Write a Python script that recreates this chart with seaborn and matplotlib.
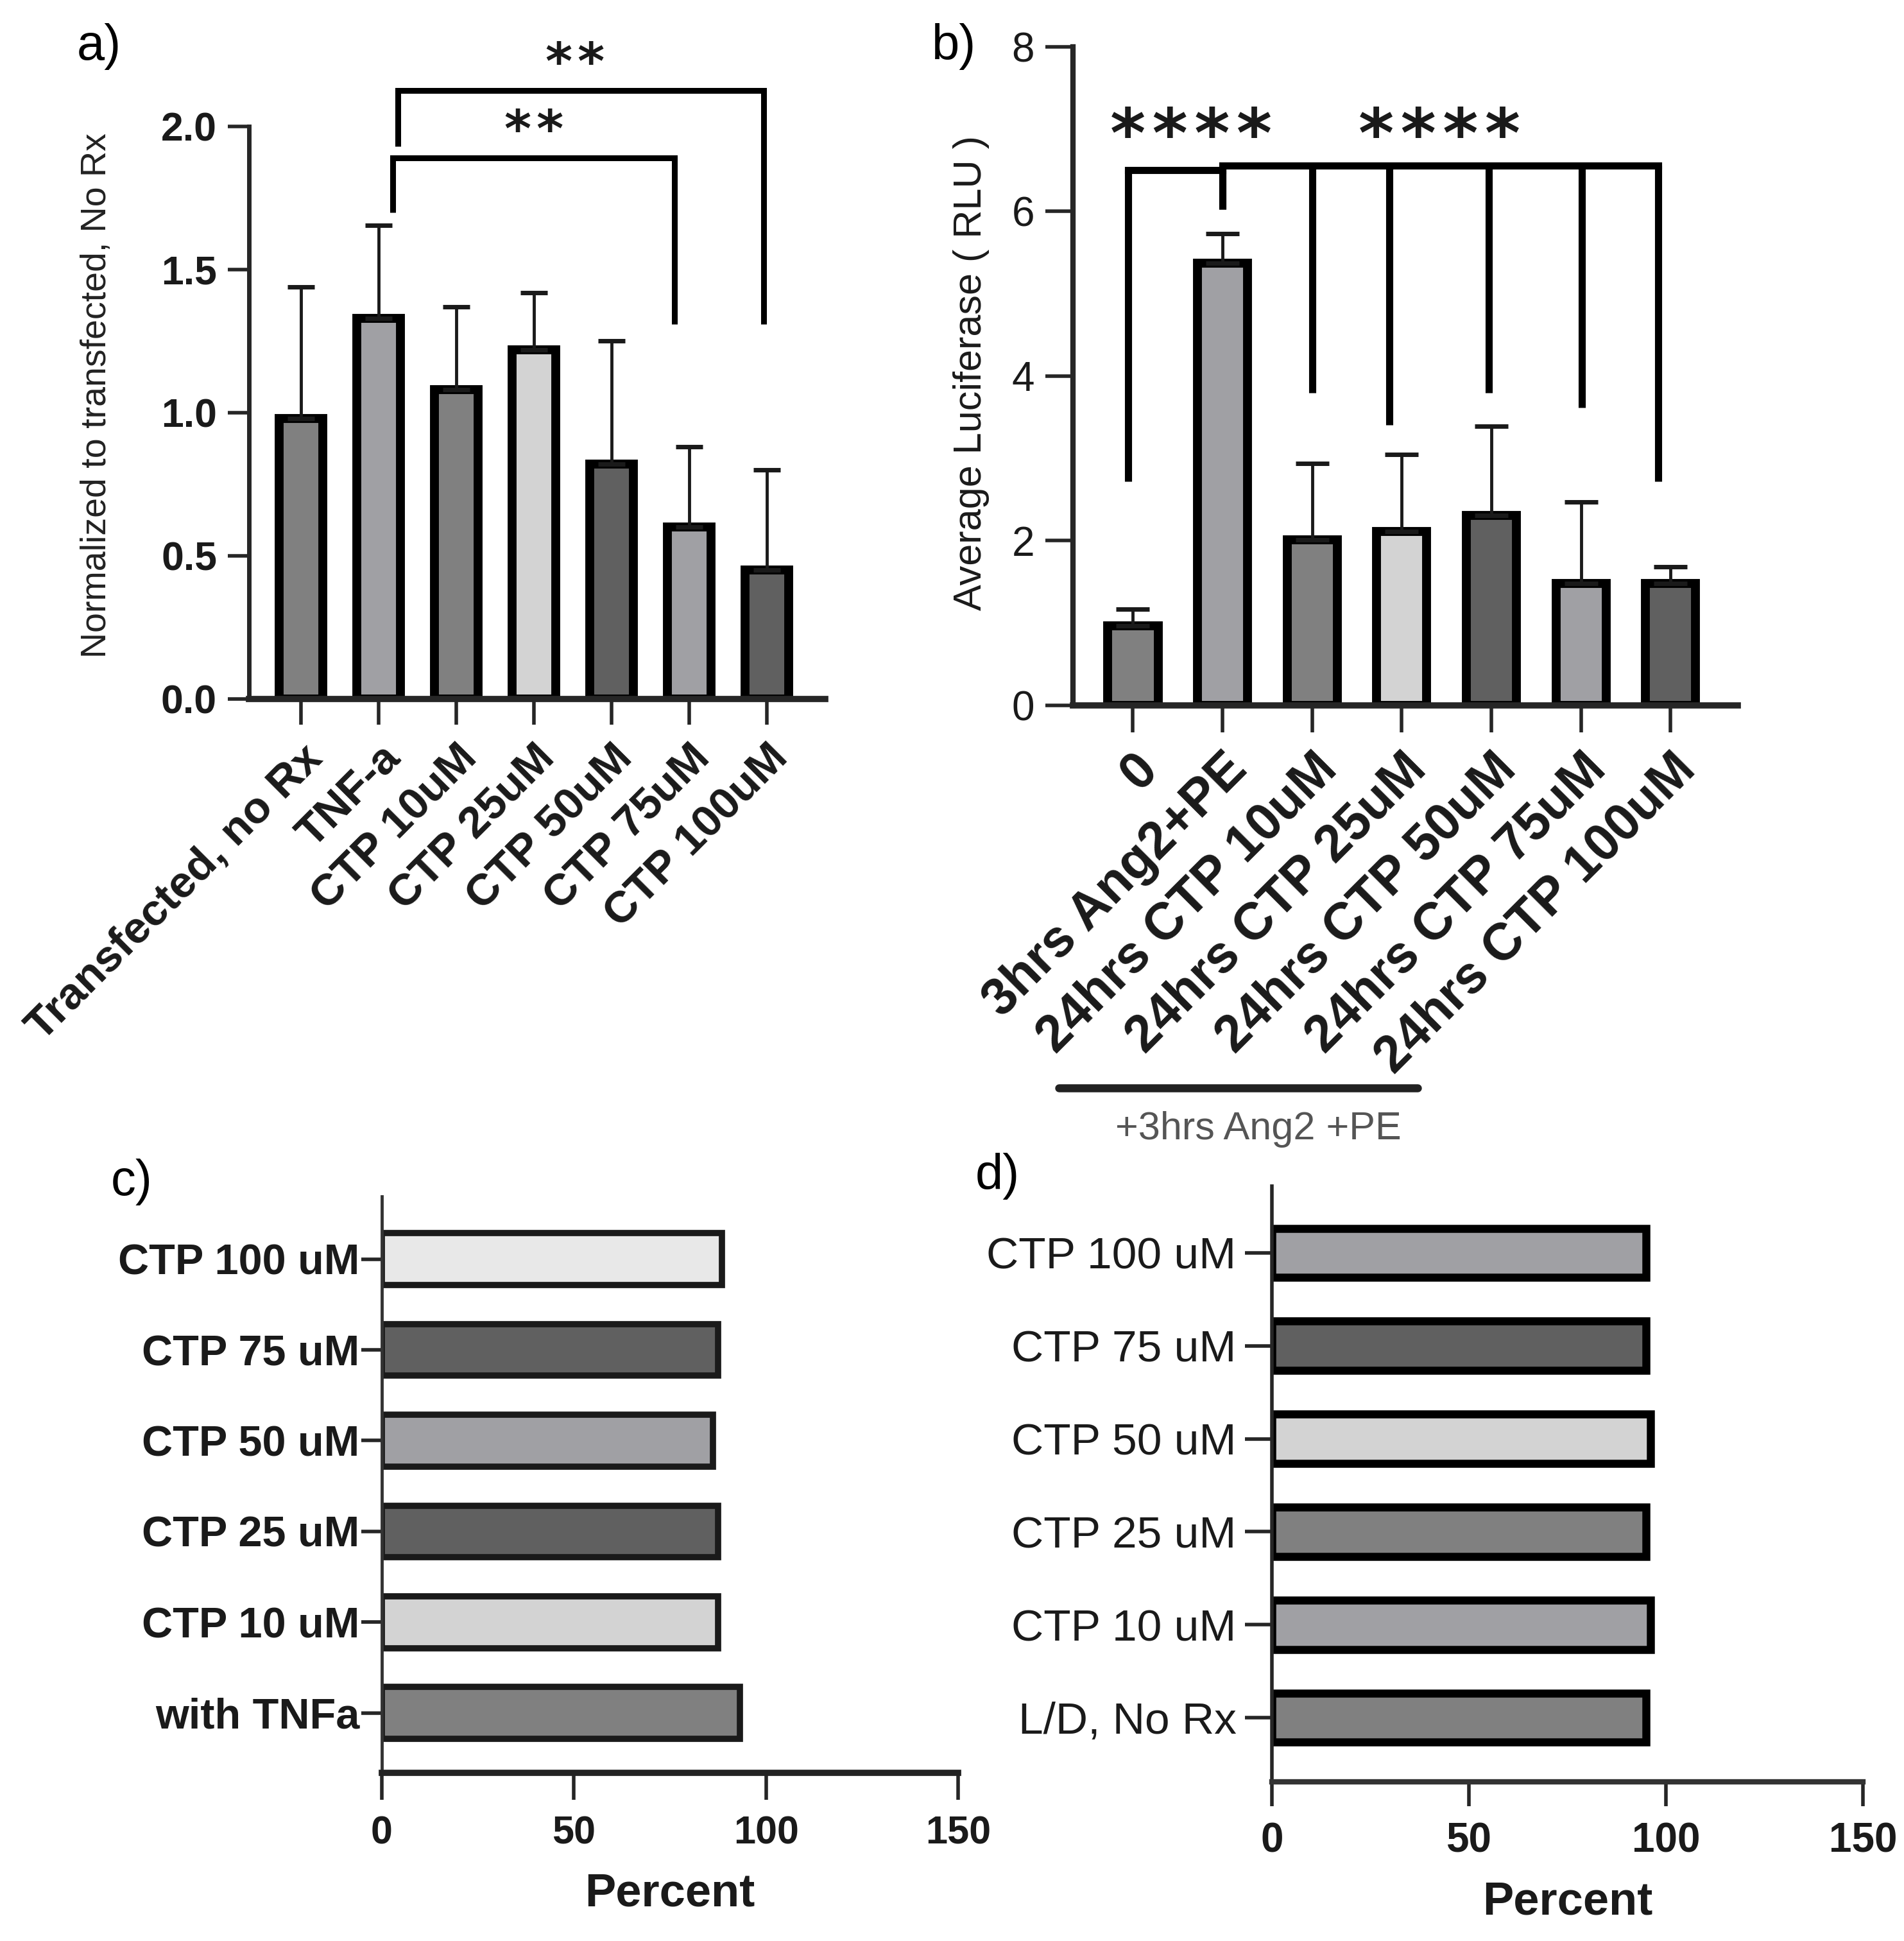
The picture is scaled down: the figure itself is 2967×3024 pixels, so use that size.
import numpy as np
import pandas as pd
import matplotlib.pyplot as plt
import seaborn as sns

sns.set_style('ticks')
plt.rcParams['font.family'] = ['Liberation Sans', 'DejaVu Sans']

# a) normalized to transfected
a_labels = ['Transfected, no Rx', 'TNF-a', 'CTP 10uM', 'CTP 25uM', 'CTP 50uM', 'CTP 75uM', 'CTP 100uM']
a_mean = [0.98, 1.33, 1.08, 1.22, 0.82, 0.60, 0.45]
a_err_top = [1.44, 1.655, 1.37, 1.42, 1.25, 0.88, 0.80]
a_colors = ['#808080', '#a0a0a4', '#808080', '#d3d3d3', '#606060', '#a0a0a4', '#606060']

# b) luciferase
b_labels = ['0', '3hrs Ang2+PE', '24hrs CTP 10uM', '24hrs CTP 25uM', '24hrs CTP 50uM',
            '24hrs CTP 75uM', '24hrs CTP 100uM']
b_mean = [0.97, 5.37, 2.01, 2.11, 2.31, 1.48, 1.48]
b_err_top = [1.17, 5.73, 2.94, 3.05, 3.39, 2.47, 1.68]
b_colors = ['#808080', '#a0a0a4', '#808080', '#d3d3d3', '#606060', '#a0a0a4', '#606060']

# c) and d) viability, percent
c_labels = ['CTP 100 uM', 'CTP 75 uM', 'CTP 50 uM', 'CTP 25 uM', 'CTP 10 uM', 'with TNFa']
c_values = [88.5, 87.6, 86.2, 87.6, 87.6, 93.2]
c_colors = ['#e8e8e8', '#606060', '#a0a0a4', '#606060', '#d3d3d3', '#808080']

d_labels = ['CTP 100 uM', 'CTP 75 uM', 'CTP 50 uM', 'CTP 25 uM', 'CTP 10 uM', 'L/D, No Rx']
d_values = [95.0, 95.0, 96.1, 95.0, 96.1, 95.0]
d_colors = ['#a0a0a4', '#606060', '#d3d3d3', '#808080', '#a0a0a4', '#808080']

INK = '#1a1a1a'
HS = '\u200a'  # hair space between stars


def vbars(ax, labels, means, tops, colors, lw, capsize):
    df = pd.DataFrame({'group': labels, 'value': means})
    sns.barplot(data=df, x='group', y='value', hue='group', palette=colors, legend=False,
                width=0.56, edgecolor='black', linewidth=lw, saturation=1, ax=ax)
    hi = np.array(tops) - np.array(means)
    ax.errorbar(np.arange(len(means)), means, yerr=[np.zeros(len(means)), hi], fmt='none',
                ecolor=INK, elinewidth=3.5, capsize=capsize, capthick=5, zorder=1)
    ax.set_xlim(-0.67, 6.75)
    ax.set_xlabel('')
    ax.set_xticks(range(len(labels)))
    sns.despine(ax=ax)


def bracket(ax, xs, y, ends, lw):
    ax.plot([xs[0], xs[-1]], [y, y], color='black', lw=lw, clip_on=False, solid_capstyle='projecting')
    for x, e in zip(xs, ends):
        ax.plot([x, x], [y, e], color='black', lw=lw, clip_on=False, solid_capstyle='butt')


def stars(ax, x, y, n, size):
    ax.text(x, y, HS.join(['*'] * n), fontsize=size, family='DejaVu Sans', fontweight='bold',
            ha='center', va='center', color=INK)


def hbars(ax, labels, values, colors, edge, lw, height):
    df = pd.DataFrame({'group': labels, 'value': values})
    sns.barplot(data=df, y='group', x='value', hue='group', palette=colors, legend=False,
                orient='h', width=height, edgecolor=edge, linewidth=lw, saturation=1, ax=ax)
    ax.set_xlim(0, 150)
    ax.set_xticks([0, 50, 100, 150])
    ax.set_ylabel('')
    ax.set_xlabel('Percent', fontsize=52, fontweight='bold', color=INK, labelpad=22)
    sns.despine(ax=ax)


fig = plt.figure(figsize=(29.67, 30.24), dpi=100)

# ---- a
ax = fig.add_axes([0.1308, 0.6399, 0.3026, 0.295])
vbars(ax, a_labels, a_mean, a_err_top, a_colors, lw=10, capsize=15)
ax.set_ylim(0, 2.0)
ax.set_yticks([0, 0.5, 1.0, 1.5, 2.0])
ax.set_yticklabels(['0.0', '0.5', '1.0', '1.5', '2.0'], fontsize=45, fontweight='bold', color=INK)
ax.set_xticklabels(a_labels, rotation=45, ha='right', rotation_mode='anchor',
                   fontsize=50, fontweight='bold', color=INK)
ax.tick_params(axis='y', length=24, width=4, pad=12)
ax.tick_params(axis='x', length=29, width=4, pad=14)
ax.spines['left'].set_linewidth(5)
ax.spines['bottom'].set_linewidth(7)
ax.set_ylabel('Normalized to transfected, No Rx', fontsize=40, color='#222222')
ax.yaxis.set_label_coords(-0.235, 0.53)
bracket(ax, [1.25, 5.96], 2.125, [1.93, 1.31], 6.5)
bracket(ax, [1.18, 4.81], 1.89, [1.70, 1.31], 6.5)
stars(ax, 3.53, 2.215, 2, 58)
stars(ax, 3.0, 1.98, 2, 58)

# ---- b
ax = fig.add_axes([0.5635, 0.6366, 0.3492, 0.3393])
vbars(ax, b_labels, b_mean, b_err_top, b_colors, lw=10, capsize=19)
ax.set_ylim(0, 8)
ax.set_yticks([0, 2, 4, 6, 8])
ax.set_yticklabels(['0', '2', '4', '6', '8'], fontsize=46, color=INK)
ax.set_xticklabels(b_labels, rotation=45, ha='right', rotation_mode='anchor',
                   fontsize=58, fontweight='bold', color=INK)
ax.tick_params(axis='y', length=31, width=4, pad=12)
ax.tick_params(axis='x', length=30, width=4, pad=14)
ax.spines['left'].set_linewidth(6)
ax.spines['bottom'].set_linewidth(7)
ax.set_ylabel('Average Luciferase ( RLU )', fontsize=44, color=INK)
ax.yaxis.set_label_coords(-0.125, 0.505)
bracket(ax, [-0.05, 1.0], 6.50, [2.72, 6.03], 8)
bracket(ax, [1.0, 2.0, 2.86, 3.97, 5.01, 5.86], 6.56, [6.03, 3.80, 3.41, 3.80, 3.62, 2.72], 8)
stars(ax, 0.65, 6.89, 4, 76)
stars(ax, 3.42, 6.89, 4, 76)
xt = ax.get_xaxis_transform()
ax.plot([-0.83, 3.18], [-0.581, -0.581], transform=xt, color='#222222', lw=9, clip_on=False)
ax.text(1.40, -0.644, '+3hrs Ang2 +PE', transform=xt, fontsize=44, color='#555555',
        ha='center', va='center')

# ---- c
ax = fig.add_axes([0.2005, 0.0866, 0.3027, 0.297])
hbars(ax, c_labels, c_values, c_colors, '#1a1a1a', 7, 0.57)
ax.set_ylim(5.66, -0.69)
ax.tick_params(axis='y', length=23, width=4, pad=2, labelsize=48)
ax.tick_params(axis='x', length=30, width=4, pad=18, labelsize=44)
for t in ax.get_yticklabels() + ax.get_xticklabels():
    t.set_fontweight('bold')
    t.set_color(INK)
ax.spines['left'].set_linewidth(3.5)
ax.spines['left'].set_color('#333333')
ax.spines['bottom'].set_linewidth(7)
ax.spines['bottom'].set_color('#222222')

# ---- d
ax = fig.add_axes([0.668, 0.082, 0.3104, 0.307])
hbars(ax, d_labels, d_values, d_colors, 'black', 9, 0.53)
ax.set_ylim(5.69, -0.72)
ax.tick_params(axis='y', length=30, width=4, pad=10, labelsize=50)
ax.tick_params(axis='x', length=27, width=4, pad=18, labelsize=46)
for t in ax.get_yticklabels() + ax.get_xticklabels():
    t.set_color(INK)
for t in ax.get_xticklabels():
    t.set_fontweight('bold')
ax.spines['left'].set_linewidth(4)
ax.spines['bottom'].set_linewidth(6)
ax.spines['bottom'].set_color('#333333')

# panel letters
for x, y, s in [(0.052, 0.976, 'a)'), (0.501, 0.976, 'b)'), (0.069, 0.391, 'c)'), (0.524, 0.394, 'd)')]:
    fig.text(x, y, s, fontsize=56, ha='center', va='center', color='black')

fig.savefig('out.png', dpi=100)
